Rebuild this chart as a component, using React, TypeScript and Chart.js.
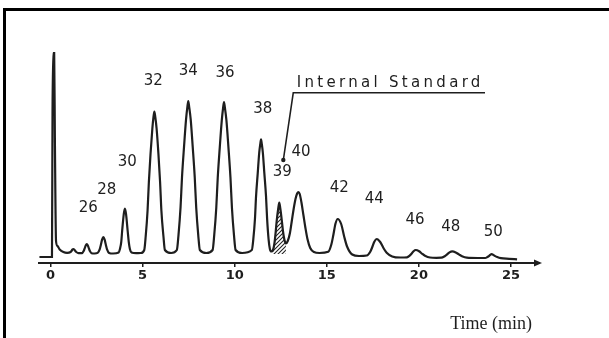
import React, { useEffect, useRef } from "react";
import { Chart, registerables } from "chart.js";

Chart.register(...registerables);

// Retention time (min) / detector signal pairs
const solventTrace: [number, number][] = [
  [-0.6, 6], [0.08, 6], [0.11, 150], [0.14, 210], [0.2, 210], [0.24, 120], [0.3, 22],
  [0.38, 17], [0.5, 13.5], [0.7, 11], [0.9, 10.2],
];
const earlyTrace: [number, number][] = [
  [1.09, 11], [1.14, 12], [1.19, 13.4], [1.24, 14], [1.29, 13.4], [1.35, 12], [1.4, 11], [1.52, 9.8],
  [1.71, 9.8], [1.8, 11.9], [1.85, 14.3], [1.91, 17.4], [1.97, 19], [2.03, 17.4], [2.09, 14.3], [2.14, 11.9], [2.23, 9.8],
  [2.4, 9.5],
  [2.56, 10.1], [2.67, 13.6], [2.73, 17.8], [2.8, 23.3], [2.87, 26], [2.94, 23.3], [3.01, 17.8], [3.07, 13.6], [3.18, 10.1],
  [3.4, 9.5],
  [3.7, 10.5], [3.77, 14], [3.84, 20.8], [3.89, 32], [3.98, 49.1], [4.04, 54.5], [4.1, 49.1], [4.19, 32], [4.25, 20.8],
  [4.31, 14], [4.4, 10.5],
  [4.65, 9.8], [4.9, 10],
];
const mainTrace: [number, number][] = [
  [5.09, 13], [5.17, 27], [5.27, 52.5], [5.34, 80.8], [5.43, 109], [5.53, 134.5], [5.59, 145.8], [5.64, 151.5],
  [5.69, 145.8], [5.76, 134.5], [5.86, 109], [5.95, 80.8], [6.02, 52.5], [6.13, 27], [6.21, 13],
  [6.55, 10],
  [6.86, 13], [6.95, 28.2], [7.06, 55.6], [7.14, 86], [7.25, 116.4], [7.36, 143.8], [7.43, 155.9], [7.48, 162],
  [7.53, 155.9], [7.61, 143.8], [7.72, 116.4], [7.83, 86], [7.91, 55.6], [8.02, 28.2], [8.11, 13],
  [8.46, 10],
  [8.8, 13], [8.89, 28.1], [9.0, 55.3], [9.08, 85.5], [9.19, 115.7], [9.3, 142.9], [9.37, 155], [9.42, 161],
  [9.47, 155], [9.55, 142.9], [9.66, 115.7], [9.77, 85.5], [9.85, 55.3], [9.96, 28.1], [10.05, 13],
  [10.4, 10],
  [10.93, 13], [11.01, 23.6], [11.1, 44.1], [11.16, 66.9], [11.25, 89.6], [11.33, 110], [11.39, 119.2], [11.43, 123.7],
  [11.47, 119.2], [11.53, 110], [11.61, 89.6], [11.7, 66.9], [11.76, 44.1], [11.84, 23.6], [11.91, 14],
  [11.99, 11.5],
  [12.08, 13], [12.16, 20], [12.23, 32], [12.28, 42], [12.36, 54], [12.42, 60.5], [12.48, 54], [12.56, 42], [12.62, 32],
  [12.69, 24], [12.78, 19.5],
  [12.88, 22], [13.0, 30], [13.1, 42], [13.2, 54], [13.3, 64], [13.39, 69.5], [13.46, 71], [13.53, 69], [13.62, 61],
  [13.73, 48], [13.84, 35], [13.95, 24], [14.1, 15], [14.3, 11], [14.6, 10],
];
const lateTrace: [number, number][] = [
  [15.08, 11.2], [15.25, 18.8], [15.35, 27.5], [15.47, 39.2], [15.59, 44], [15.78, 39], [15.95, 26], [16.1, 16.5], [16.38, 8.5],
  [16.75, 7],
  [17.17, 7.5], [17.36, 11.3], [17.46, 15.5], [17.58, 21.2], [17.71, 24], [17.9, 21], [18.09, 14.5], [18.25, 10.3], [18.55, 6.6],
  [19.0, 5.5],
  [19.35, 5.7], [19.5, 7.4], [19.6, 9.3], [19.71, 11.8], [19.83, 13], [20.01, 11.8], [20.18, 9.2], [20.33, 7.3], [20.6, 5.5],
  [20.95, 5.2],
  [21.22, 5.3], [21.4, 6.8], [21.52, 8.4], [21.66, 10.6], [21.81, 11.6], [22.0, 10.6], [22.19, 8.4], [22.34, 6.8], [22.6, 5.3],
  [23.2, 5],
  [23.6, 5], [23.72, 6], [23.8, 6.9], [23.87, 8.1], [23.95, 8.8], [24.04, 8.1], [24.14, 6.9], [24.25, 5.9], [24.45, 4.8],
  [24.9, 4.2], [25.33, 3.7],
];

// internal standard (C39) retention window, hatched
const standardWindow: [number, number] = [12.04, 12.8];
const hatchBase = 9;

// peak labels: text, time, signal level of label
const peakLabels: [string, number, number][] = [
  ["26", 2.05, 55.3], ["28", 3.05, 73], ["30", 4.17, 101.3], ["32", 5.58, 182.3], ["34", 7.48, 192.3],
  ["36", 9.47, 190.3], ["38", 11.52, 153.7], ["39", 12.58, 91.3], ["40", 13.6, 111.3], ["42", 15.68, 74.7],
  ["44", 17.58, 63.7], ["46", 19.79, 43], ["48", 21.73, 36.3], ["50", 24.04, 31.3],
];
const standardText = "Internal Standard";
const standardTextAt: [number, number] = [13.37, 179.7];
const standardLeader: [number, number][] = [[23.59, 170.3], [13.18, 170.3], [12.64, 103]];

const tickValues = [0, 5, 10, 15, 20, 25];
const xTitle = "Time (min)";
const xTitleAt: [number, number] = [26.14, -61];

const xMin = -0.624;
const xMax = 26.52;
const yMin = 0;
const yMax = 220;

const ink = "#1e1e1e";

export default function App() {
  const ref = useRef<HTMLCanvasElement | null>(null);

  useEffect(() => {
    const canvas = ref.current;
    if (!canvas) return;
    const trace = [...solventTrace, ...earlyTrace, ...mainTrace, ...lateTrace].map(([x, y]) => ({ x, y }));
    const hatchPts = trace.filter((p) => p.x >= standardWindow[0] && p.x <= standardWindow[1]);

    const pc = document.createElement("canvas");
    pc.width = 4;
    pc.height = 4;
    const pctx = pc.getContext("2d")!;
    pctx.strokeStyle = "#222";
    pctx.lineWidth = 1.1;
    pctx.beginPath();
    pctx.moveTo(0, 4);
    pctx.lineTo(4, 0);
    pctx.moveTo(-1, 1);
    pctx.lineTo(1, -1);
    pctx.moveTo(3, 5);
    pctx.lineTo(5, 3);
    pctx.stroke();
    const pattern = canvas.getContext("2d")!.createPattern(pc, "repeat");

    const overlay = {
      id: "overlay",
      afterDraw(chart: any) {
        const { ctx, chartArea } = chart;
        const x = chart.scales.x;
        const y = chart.scales.y;
        ctx.save();
        // arrow head
        const ax = chartArea.right;
        const ay = chartArea.bottom;
        ctx.fillStyle = ink;
        ctx.beginPath();
        ctx.moveTo(ax + 3, ay);
        ctx.lineTo(ax - 5, ay - 3.5);
        ctx.lineTo(ax - 5, ay + 3.5);
        ctx.closePath();
        ctx.fill();

        // peak labels
        ctx.font = '15px "DejaVu Sans"';
        ctx.textAlign = "center";
        ctx.textBaseline = "middle";
        ctx.fillStyle = ink;
        peakLabels.forEach(([t, tx, v]) => {
          ctx.fillText(t, x.getPixelForValue(tx), y.getPixelForValue(v));
        });

        // internal standard annotation
        ctx.textAlign = "left";
        (ctx as any).letterSpacing = "3.3px";
        ctx.fillText(standardText, x.getPixelForValue(standardTextAt[0]), y.getPixelForValue(standardTextAt[1]));
        (ctx as any).letterSpacing = "0px";
        ctx.strokeStyle = ink;
        ctx.lineWidth = 1.6;
        ctx.beginPath();
        standardLeader.forEach(([t, v], i) => {
          const px = x.getPixelForValue(t);
          const py = y.getPixelForValue(v);
          if (i === 0) ctx.moveTo(px, py);
          else ctx.lineTo(px, py);
        });
        ctx.stroke();
        const end = standardLeader[standardLeader.length - 1];
        ctx.beginPath();
        ctx.arc(x.getPixelForValue(end[0]), y.getPixelForValue(end[1]), 2.2, 0, Math.PI * 2);
        ctx.fill();

        // axis title
        ctx.font = '18px "Liberation Serif"';
        ctx.textAlign = "right";
        ctx.fillText(xTitle, x.getPixelForValue(xTitleAt[0]), y.getPixelForValue(xTitleAt[1]));
        ctx.restore();
      },
    };

    const chart = new Chart(canvas, {
      type: "line",
      data: {
        datasets: [
          {
            data: trace,
            borderColor: ink,
            borderWidth: 2.2,
            pointRadius: 0,
            cubicInterpolationMode: "monotone",
            fill: false,
            order: 1,
          },
          {
            data: hatchPts,
            borderWidth: 0,
            borderColor: "rgba(0,0,0,0)",
            pointRadius: 0,
            cubicInterpolationMode: "monotone",
            backgroundColor: pattern as any,
            fill: { value: hatchBase },
            order: 2,
          },
        ],
      },
      options: {
        animation: false,
        responsive: false,
        devicePixelRatio: 1,
        events: [],
        layout: { padding: { left: 39, right: 70, top: 43, bottom: 53.4 } },
        plugins: { legend: { display: false }, tooltip: { enabled: false } },
        scales: {
          x: {
            type: "linear",
            min: xMin,
            max: xMax,
            afterBuildTicks: (axis: any) => {
              axis.ticks = tickValues.map((v) => ({ value: v }));
            },
            grid: { display: true, drawOnChartArea: false, drawTicks: true, tickLength: 4, color: ink, lineWidth: 1.5 },
            border: { display: true, color: ink, width: 2 },
            ticks: {
              padding: 1,
              color: ink,
              font: { family: '"DejaVu Sans"', size: 13, weight: "bold" },
              maxRotation: 0,
              autoSkip: false,
            },
          },
          y: { type: "linear", min: yMin, max: yMax, display: false },
        },
      },
      plugins: [overlay],
    });
    return () => chart.destroy();
  }, []);

  return (
    <div style={{ position: "fixed", left: 0, top: 0, width: 609, height: 338, background: "#fff", overflow: "hidden" }}>
      <div
        style={{
          position: "absolute",
          left: 3,
          top: 7.5,
          width: 610,
          height: 340,
          borderLeft: "3px solid #000",
          borderTop: "3px solid #000",
          boxSizing: "border-box",
        }}
      />
      <canvas ref={ref} width={609} height={338} style={{ position: "absolute", left: 0, top: 0 }} />
    </div>
  );
}
